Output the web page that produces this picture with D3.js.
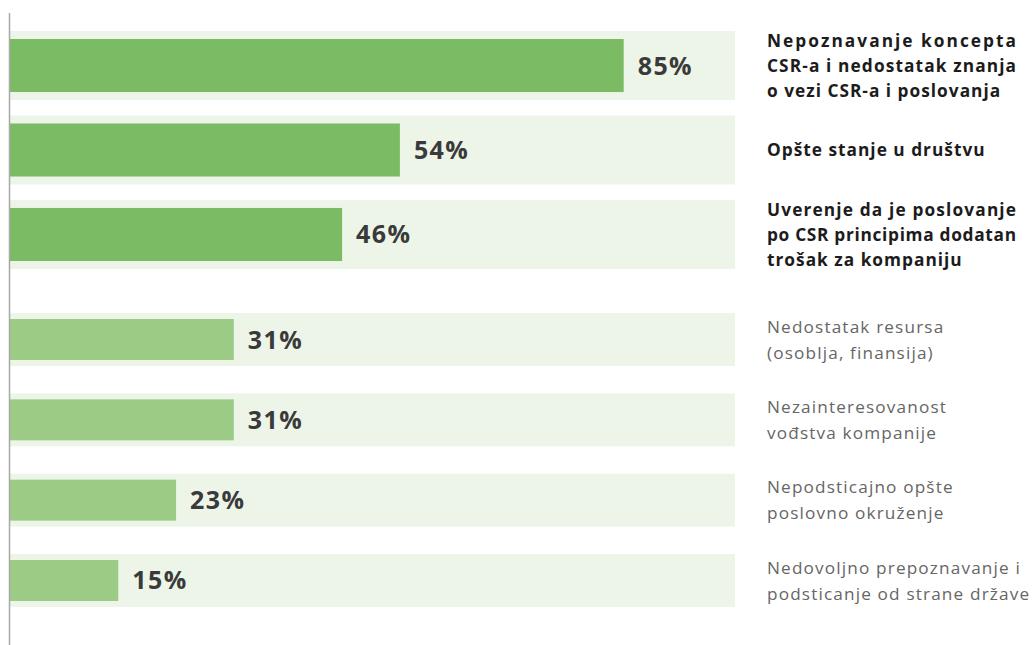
<!DOCTYPE html>
<html>
<head>
<meta charset="utf-8">
<script src="https://cdn.jsdelivr.net/npm/d3@7"></script>
<style>
  html, body { margin: 0; padding: 0; background: #ffffff; }
  svg { display: block; }
</style>
</head>
<body>
<svg id="chart" width="1036" height="645"></svg>
<script>
// Key reasons (bold, top group) and other reasons (regular, bottom group)
const primaryLabels = [
  ["Nepoznavanje koncepta", "CSR-a i nedostatak znanja", "o vezi CSR-a i poslovanja"],
  ["Opšte stanje u društvu"],
  ["Uverenje da je poslovanje", "po CSR principima dodatan", "trošak za kompaniju"]
];
const primaryValues = [85, 54, 46];

const secondaryLabels = [
  ["Nedostatak resursa", "(osoblja, finansija)"],
  ["Nezainteresovanost", "vođstva kompanije"],
  ["Nepodsticajno opšte", "poslovno okruženje"],
  ["Nedovoljno prepoznavanje i", "podsticanje od strane države"]
];
const secondaryValues = [31, 31, 23, 15];

const svg = d3.select("#chart");
const fontFamily = "'Open Sans', Lato, sans-serif";

const x = d3.scaleLinear().domain([0, 100]).range([10, 732]);
const bandRight = 735;
const labelX = 767;

const yTop = d3.scaleBand()
  .domain(d3.range(primaryValues.length))
  .range([31, 269])
  .paddingInner(0.183);

const yBottom = d3.scaleBand()
  .domain(d3.range(secondaryValues.length))
  .range([313, 607])
  .paddingInner(0.34);

function drawGroup(values, labels, y, opts) {
  const g = svg.append("g");
  const rows = g.selectAll("g.row")
    .data(values.map((v, i) => ({ v, lines: labels[i], i })))
    .join("g")
    .attr("class", "row");

  // background track
  rows.append("rect")
    .attr("x", x(0))
    .attr("y", d => y(d.i))
    .attr("width", bandRight - x(0))
    .attr("height", y.bandwidth())
    .attr("fill", "#edf5e9");

  // value bar
  rows.append("rect")
    .attr("x", x(0))
    .attr("y", d => y(d.i) + opts.inset)
    .attr("width", d => x(d.v) - x(0))
    .attr("height", y.bandwidth() - 2 * opts.inset)
    .attr("fill", opts.barColor);

  // percentage label
  rows.append("text")
    .attr("x", d => x(d.v) + 14)
    .attr("y", d => y(d.i) + y.bandwidth() / 2)
    .attr("dy", "0.36em")
    .attr("font-family", fontFamily)
    .attr("font-weight", 700)
    .attr("font-size", 25)
    .attr("letter-spacing", 1.4)
    .attr("fill", "#3a3a3a")
    .text(d => d.v + "%");

  // category label, one text element per line; bold blocks are justified
  rows.selectAll("text.cat")
    .data(d => d.lines.map((t, k) => ({ t, k, n: d.lines.length, c: y(d.i) + y.bandwidth() / 2 })))
    .join("text")
    .attr("class", "cat")
    .attr("x", labelX)
    .attr("y", d => d.c + (d.k - (d.n - 1) / 2) * opts.lineHeight)
    .attr("dy", "0.36em")
    .attr("font-family", fontFamily)
    .attr("font-weight", opts.labelWeight)
    .attr("font-size", opts.labelSize)
    .attr("letter-spacing", opts.labelSpacing)
    .attr("fill", opts.labelColor)
    .each(function (d) {
      if (opts.justify && d.k < d.n - 1) {
        d3.select(this)
          .attr("textLength", opts.justify)
          .attr("lengthAdjust", "spacing");
      }
    })
    .text(d => d.t);
}

drawGroup(primaryValues, primaryLabels, yTop, {
  inset: 8, barColor: "#7bbb64", labelWeight: 700, labelSize: 17.3,
  labelSpacing: 1.0, labelColor: "#1c1c1c", lineHeight: 25, justify: 250
});

drawGroup(secondaryValues, secondaryLabels, yBottom, {
  inset: 6, barColor: "#9ccb86", labelWeight: 400, labelSize: 17.2,
  labelSpacing: 1.15, labelColor: "#666666", lineHeight: 26, justify: 0
});

// vertical baseline
svg.append("line")
  .attr("x1", 9.5).attr("x2", 9.5)
  .attr("y1", 13).attr("y2", 645)
  .attr("stroke", "#a9a9a9")
  .attr("stroke-width", 1.5);
</script>
</body>
</html>
